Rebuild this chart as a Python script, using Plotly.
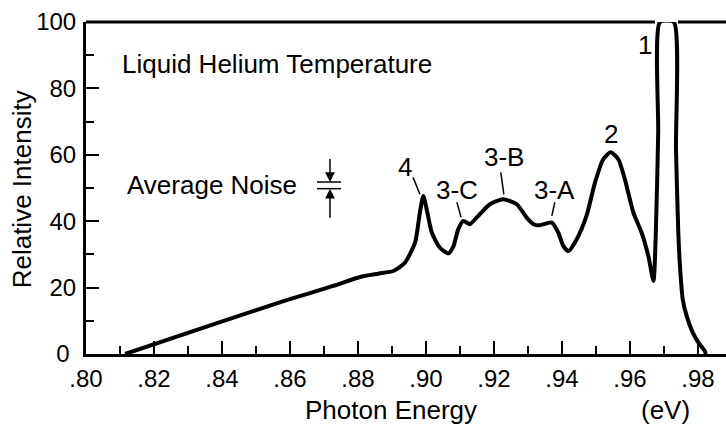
import plotly.graph_objects as go

# Photoluminescence spectrum at liquid-helium temperature
energy_ev = [
    0.8115, 0.8394, 0.8590, 0.8727, 0.8806, 0.8860, 0.8904, 0.8938, 0.8968,
    0.8982, 0.8992, 0.9002, 0.9017, 0.9041, 0.9066, 0.9081, 0.9095, 0.9110,
    0.9129, 0.9149, 0.9188, 0.9227, 0.9267, 0.9296, 0.9318, 0.9335, 0.9370,
    0.9389, 0.9404, 0.9419, 0.9443, 0.9472, 0.9497, 0.9521, 0.9543, 0.9566,
    0.9585, 0.9610, 0.9634, 0.9654, 0.9669, 0.9676, 0.9683, 0.9688, 0.9729,
    0.97353, 0.97421, 0.97471, 0.9755, 0.97668, 0.97844, 0.98009, 0.98206,
    0.9823,
]
intensity = [
    0.0, 9.6, 16.2, 20.5, 23.2, 24.2, 25.0, 27.5, 33.6,
    42.6, 47.6, 43.6, 36.6, 32.0, 30.3, 32.5, 37.6, 40.1,
    39.1, 41.1, 45.1, 46.6, 45.1, 41.1, 39.0, 38.8, 39.6,
    36.6, 32.5, 31.0, 34.5, 41.6, 51.6, 58.6, 60.8, 58.6,
    52.6, 42.6, 36.6, 29.5, 22.0, 36.6, 66.6, 100.0, 100.0,
    61.7, 36.7, 26.4, 16.5, 11.4, 6.5, 3.5, 0.8,
    0.0,
]

x_major = [0.80, 0.82, 0.84, 0.86, 0.88, 0.90, 0.92, 0.94, 0.96, 0.98]
x_labels = [".80", ".82", ".84", ".86", ".88", ".90", ".92", ".94", ".96", ".98"]
x_minor = [0.81, 0.83, 0.85, 0.87, 0.89, 0.91, 0.93, 0.95, 0.97]
y_major = [0, 20, 40, 60, 80, 100]
y_labels = ["0\u00a0", "20", "40", "60", "80", "100"]
y_minor = [10, 30, 50, 70, 90]

# Peak labels with leader lines pointing at each feature
peak_labels = ["4", "3-C", "3-B", "3-A", "2", "1"]
peak_text_x = [0.8938, 0.9091, 0.9229, 0.9377, 0.9544, 0.9644]
peak_text_y = [56.2, 49.3, 59.2, 49.3, 66.2, 93.0]
leader_x0 = [0.8962, 0.9091, 0.9220, 0.9379, None, None]
leader_y0 = [53.2, 45.7, 54.7, 45.7, None, None]
leader_x1 = [0.8982, 0.9103, 0.9229, 0.9370, None, None]
leader_y1 = [48.1, 41.2, 48.1, 41.6, None, None]

X_RANGE = [0.80, 0.98824]
Y_RANGE = [0, 100]
FONT = "Liberation Sans, Arial, sans-serif"

fig = go.Figure()
fig.add_trace(go.Scatter(
    x=energy_ev, y=intensity, mode="lines",
    line=dict(color="black", width=4, shape="spline", smoothing=0.6),
    hoverinfo="skip", showlegend=False,
))

tick_common = dict(ticks="inside", tickwidth=2, tickcolor="black",
                   showgrid=False, zeroline=False)

fig.update_layout(
    width=726, height=425,
    margin=dict(l=86, r=0, t=22, b=71),
    paper_bgcolor="white", plot_bgcolor="white",
    font=dict(family=FONT, color="black"),
    xaxis=dict(
        range=X_RANGE, tickmode="array", tickvals=x_major, ticktext=x_labels,
        ticklen=13, showline=True, linewidth=3, linecolor="black",
        tickfont=dict(size=24), ticklabelstandoff=1,
        minor=dict(ticks="inside", tickvals=x_minor, ticklen=8, tickwidth=2,
                   tickcolor="black", showgrid=False),
        **tick_common,
    ),
    yaxis=dict(
        range=Y_RANGE, tickmode="array", tickvals=y_major, ticktext=y_labels,
        ticklen=13, showline=True, linewidth=3, linecolor="black",
        tickfont=dict(size=24), ticklabelstandoff=2,
        minor=dict(ticks="inside", tickvals=y_minor, ticklen=8, tickwidth=2,
                   tickcolor="black", showgrid=False),
        **tick_common,
    ),
    xaxis2=dict(
        range=X_RANGE, overlaying="x", anchor="y", side="top",
        tickmode="array", tickvals=x_major, ticklen=12, showticklabels=False,
        showline=False,
        minor=dict(ticks="inside", tickvals=x_minor, ticklen=8, tickwidth=2,
                   tickcolor="black", showgrid=False),
        **tick_common,
    ),
    yaxis2=dict(
        range=Y_RANGE, overlaying="y", anchor="x", side="right",
        tickmode="array", tickvals=y_major, ticklen=10, showticklabels=False,
        showline=False,
        minor=dict(ticks="inside", tickvals=y_minor, ticklen=4, tickwidth=2,
                   tickcolor="black", showgrid=False),
        **tick_common,
    ),
)

# Top frame, broken where the main line passes through it
fig.add_shape(type="line", xref="x", yref="paper", x0=0.80, x1=0.96735,
              y0=1, y1=1, line=dict(color="black", width=3))
fig.add_shape(type="line", xref="x", yref="paper", x0=0.97412, x1=X_RANGE[1],
              y0=1, y1=1, line=dict(color="black", width=3))

for i, label in enumerate(peak_labels):
    fig.add_annotation(x=peak_text_x[i], y=peak_text_y[i], text=label,
                       showarrow=False, font=dict(size=26),
                       xanchor="center", yanchor="middle")
    if leader_x0[i] is not None:
        fig.add_shape(type="line", x0=leader_x0[i], y0=leader_y0[i],
                      x1=leader_x1[i], y1=leader_y1[i],
                      line=dict(color="black", width=1.5))

fig.add_annotation(x=0.81, y=87.4, text="Liquid Helium Temperature",
                   showarrow=False, font=dict(size=26),
                   xanchor="left", yanchor="middle")
fig.add_annotation(x=0.8115, y=50.8, text="Average Noise",
                   showarrow=False, font=dict(size=26),
                   xanchor="left", yanchor="middle")

# Average-noise marker: two bars with arrows pointing at them
noise_x = 0.87176
noise_hi, noise_lo = 51.8, 49.8
fig.add_shape(type="line", x0=0.86794, x1=0.8750, y0=noise_hi, y1=noise_hi,
              line=dict(color="black", width=1.5))
fig.add_shape(type="line", x0=0.86794, x1=0.8750, y0=noise_lo, y1=noise_lo,
              line=dict(color="black", width=1.5))
fig.add_annotation(x=noise_x, y=noise_hi, ax=noise_x, ay=59.2,
                   axref="x", ayref="y", text="", showarrow=True,
                   arrowhead=2, arrowsize=1.3, arrowwidth=1.5, arrowcolor="black")
fig.add_annotation(x=noise_x, y=noise_lo, ax=noise_x, ay=40.6,
                   axref="x", ayref="y", text="", showarrow=True,
                   arrowhead=2, arrowsize=1.3, arrowwidth=1.5, arrowcolor="black")

# Axis titles
fig.add_annotation(xref="paper", yref="paper", x=-0.1, y=0.496,
                   text="Relative Intensity", textangle=-90, showarrow=False,
                   font=dict(size=26), xanchor="center", yanchor="middle")
fig.add_annotation(xref="paper", yref="paper", x=0.4766, y=-0.168,
                   text="Photon Energy", showarrow=False, font=dict(size=26),
                   xanchor="center", yanchor="middle")
fig.add_annotation(xref="paper", yref="paper", x=0.9047, y=-0.1686,
                   text="(eV)", showarrow=False, font=dict(size=26),
                   xanchor="center", yanchor="middle")

fig.write_html("out.html")
